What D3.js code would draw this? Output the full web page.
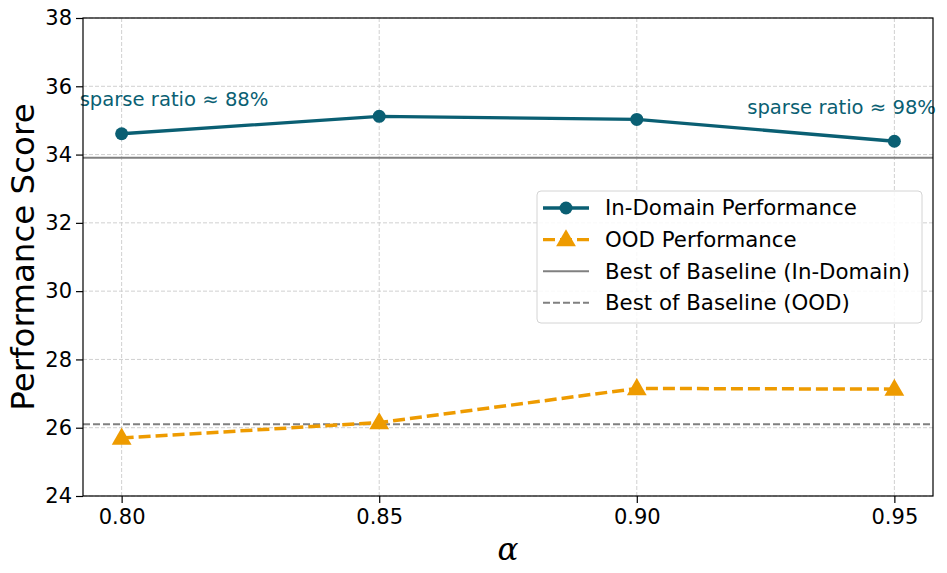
<!DOCTYPE html>
<html>
<head>
<meta charset="utf-8">
<script src="https://cdn.jsdelivr.net/npm/d3@7"></script>
<style>
  body { margin: 0; background: #fff; }
  text { font-family: "DejaVu Sans", sans-serif; }
</style>
</head>
<body>
<script>
(function (d3) {
    'use strict';

    var alphas = [0.80, 0.85, 0.90, 0.95];
    var inDomain = [34.61, 35.12, 35.03, 34.39];
    var ood = [25.70, 26.15, 27.15, 27.13];
    var baseInDomain = 33.91;
    var baseOOD = 26.10;
    var xTicks = [0.80, 0.85, 0.90, 0.95];
    var yTicks = [24, 26, 28, 30, 32, 34, 36, 38];
    var legendLabels = ["In-Domain Performance", "OOD Performance", "Best of Baseline (In-Domain)", "Best of Baseline (OOD)"];

    var teal = "#0a5f73", orange = "#ee9b00", gray = "#808080";

    const margin = { top: 18, right: 14, bottom: 77, left: 83 };
    const width = 947 - margin.left - margin.right;
    const height = 573 - margin.top - margin.bottom;

    var x = d3.scaleLinear().domain([0.7925, 0.9575]).range([0, width]);
    var y = d3.scaleLinear().domain([24, 38]).range([height, 0]);

    var svg = d3.select("body").append("svg")
        .attr("width", 947).attr("height", 573)
        .append("g")
        .attr("transform", "translate(" + margin.left + "," + margin.top + ")");

    // grid
    svg.append("g").selectAll("line").data(xTicks).enter().append("line")
        .attr("x1", d => x(d)).attr("x2", d => x(d)).attr("y1", 0).attr("y2", height)
        .attr("stroke", "#d0d0d0").attr("stroke-dasharray", "4,2").attr("stroke-width", 1);
    svg.append("g").selectAll("line").data(yTicks).enter().append("line")
        .attr("y1", d => y(d)).attr("y2", d => y(d)).attr("x1", 0).attr("x2", width)
        .attr("stroke", "#d0d0d0").attr("stroke-dasharray", "4,2").attr("stroke-width", 1);

    // baselines
    svg.append("line").attr("x1", 0).attr("x2", width)
        .attr("y1", y(baseInDomain)).attr("y2", y(baseInDomain))
        .attr("stroke", gray).attr("stroke-width", 2);
    svg.append("line").attr("x1", 0).attr("x2", width)
        .attr("y1", y(baseOOD)).attr("y2", y(baseOOD))
        .attr("stroke", gray).attr("stroke-width", 2).attr("stroke-dasharray", "7,3");

    var line = d3.line().x(d => x(d[0])).y(d => y(d[1]));

    svg.append("path").datum(d3.zip(alphas, inDomain))
        .attr("d", line).attr("fill", "none").attr("stroke", teal).attr("stroke-width", 3.3);
    svg.append("g").selectAll("circle").data(d3.zip(alphas, inDomain)).enter().append("circle")
        .attr("cx", d => x(d[0])).attr("cy", d => y(d[1])).attr("r", 6.5).attr("fill", teal);

    svg.append("path").datum(d3.zip(alphas, ood))
        .attr("d", line).attr("fill", "none").attr("stroke", orange)
        .attr("stroke-width", 3.5).attr("stroke-dasharray", "12,5");
    var tri = d3.symbol().type(d3.symbolTriangle).size(170);
    svg.append("g").selectAll("path").data(d3.zip(alphas, ood)).enter().append("path")
        .attr("d", tri).attr("fill", orange)
        .attr("transform", d => "translate(" + x(d[0]) + "," + (y(d[1]) + 1) + ")");

    // annotations
    svg.append("text").attr("x", x(0.80) - 42).attr("y", 106 - margin.top)
        .attr("font-size", 19.6).attr("fill", teal).text("sparse ratio \u2248 88%");
    svg.append("text").attr("x", 936 - margin.left).attr("y", 114 - margin.top)
        .attr("font-size", 19.6).attr("fill", teal).attr("text-anchor", "end").text("sparse ratio \u2248 98%");

    // axes frame
    svg.append("rect").attr("width", width).attr("height", height)
        .attr("fill", "none").attr("stroke", "#000").attr("stroke-width", 1.2);

    var xAxis = svg.append("g").attr("transform", "translate(0," + height + ")")
        .call(d3.axisBottom(x).tickValues(xTicks).tickFormat(d3.format(".2f")).tickSize(7).tickPadding(6));
    var yAxis = svg.append("g")
        .call(d3.axisLeft(y).tickValues(yTicks).tickFormat(d3.format("d")).tickSize(7).tickPadding(4));
    [xAxis, yAxis].forEach(function (a) {
        a.select(".domain").remove();
        a.selectAll("text").attr("font-size", 21).attr("fill", "#000").style("font-family", "DejaVu Sans");
        a.selectAll("line").attr("stroke", "#000").attr("stroke-width", 1.2);
    });

    svg.append("text").attr("transform", "translate(" + (-49) + "," + (height / 2) + ") rotate(-90)")
        .attr("text-anchor", "middle").attr("font-size", 32.5).text("Performance Score");
    svg.append("text").attr("x", width / 2).attr("y", height + 64)
        .attr("text-anchor", "middle").attr("font-size", 31).attr("font-style", "italic")
        .style("font-family", "DejaVu Serif").text("\u03b1");

    // legend
    var lg = svg.append("g").attr("transform", "translate(" + (537 - margin.left) + "," + (191 - margin.top) + ")");
    lg.append("rect").attr("width", 385).attr("height", 132).attr("rx", 4)
        .attr("fill", "#fff").attr("fill-opacity", 0.85).attr("stroke", "#d4d4d4");
    var rows = lg.selectAll("g").data(legendLabels).enter().append("g")
        .attr("transform", (d, i) => "translate(0," + (17 + i * 31.6) + ")");
    rows.append("line").attr("x1", 6).attr("x2", 52).attr("y1", 0).attr("y2", 0)
        .attr("stroke", (d, i) => i === 0 ? teal : i === 1 ? orange : gray)
        .attr("stroke-width", (d, i) => i < 2 ? 3.3 : 2)
        .attr("stroke-dasharray", (d, i) => i === 1 ? "12,5" : i === 3 ? "7,3" : null);
    rows.filter((d, i) => i === 0).append("circle").attr("cx", 29).attr("r", 6.5).attr("fill", teal);
    rows.filter((d, i) => i === 1).append("path").attr("d", tri).attr("fill", orange)
        .attr("transform", "translate(29,1)");
    rows.append("text").attr("x", 68).attr("dy", "0.35em").attr("font-size", 21.3).text(d => d);

})(d3);
</script>
</body>
</html>
